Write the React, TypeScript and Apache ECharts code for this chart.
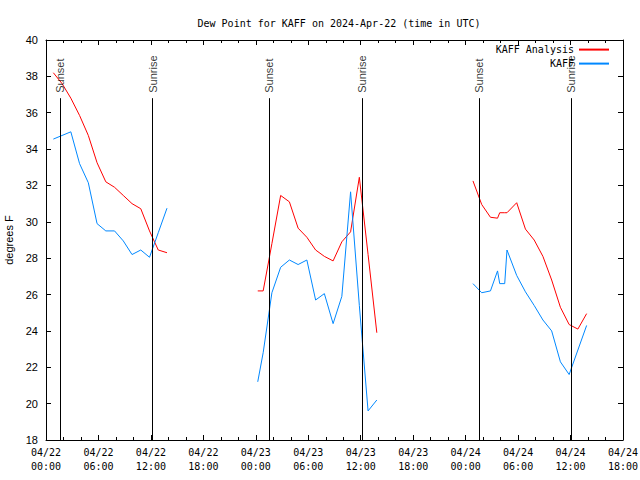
import React, { useEffect, useRef } from "react";
import * as echarts from "echarts";

// hours since 04/22 00:00 UTC
const seg1Hours = [0.84, 1.84, 2.84, 3.84, 4.84, 5.84, 6.84, 7.84, 8.84, 9.84, 10.84, 11.84, 12.84, 13.84];
const seg1Analysis = [38.2, 37.6, 36.8, 35.85, 34.75, 33.25, 32.2, 31.9, 31.45, 31.0, 30.72, 29.5, 28.45, 28.3];
const seg1Obs = [34.55, 34.75, 34.95, 33.2, 32.15, 29.9, 29.5, 29.5, 28.95, 28.2, 28.45, 28.05, 29.4, 30.75];

const seg2Hours = [24.22, 24.84, 25.84, 26.84, 27.84, 28.84, 29.84, 30.84, 31.84, 32.84, 33.84, 34.84, 35.84, 36.84, 37.84];
const seg2Analysis = [26.2, 26.2, 28.8, 31.45, 31.1, 29.65, 29.15, 28.45, 28.1, 27.85, 28.9, 29.45, 32.45, 28.2, 23.9];
const seg2Obs = [21.2, 22.8, 26.1, 27.5, 27.9, 27.65, 27.9, 25.7, 26.05, 24.4, 25.9, 31.65, 25.4, 19.6, 20.2];

const seg3Hours = [48.84, 49.84, 50.84, 51.65, 51.9, 52.47, 52.73, 53.84, 54.84, 55.84, 56.84, 57.84, 58.84, 59.84, 60.84, 61.84];
const seg3Analysis = [32.25, 30.95, 30.25, 30.2, 30.5, 30.5, 30.5, 31.05, 29.6, 29.0, 28.1, 26.8, 25.3, 24.35, 24.1, 24.95];
const seg3Obs = [26.6, 26.1, 26.2, 27.3, 26.6, 26.6, 28.45, 27.05, 26.15, 25.4, 24.6, 24.0, 22.3, 21.6, 22.95, 24.3];

const sunsetHours = [1.6, 25.48, 49.53];
const sunriseHours = [12.2, 36.13, 60.03];

const dayLabels = ["04/22", "04/23", "04/24", "04/25"];
const yTicks = { min: 18, max: 40, step: 2 };
const xTicks = { min: 0, max: 66, step: 6 };

const MONO = "DejaVu Sans Mono";
const SANS = "Liberation Sans";

function pairs(xs: number[], ys: number[]) {
  return xs.map((x, i) => [x, ys[i]]);
}

export default function App() {
  const ref = useRef<HTMLDivElement>(null);
  useEffect(() => {
    if (!ref.current) return;
    const chart = echarts.init(ref.current, undefined, { renderer: "svg" });
    const RED = "#ff0000";
    const BLUE = "#0088ff";
    const lineSeries = (name: string, color: string, data: number[][]) => ({
      type: "line",
      name,
      data,
      symbol: "none",
      showSymbol: false,
      lineStyle: { color, width: 1 },
      itemStyle: { color },
      xAxisIndex: 0,
      yAxisIndex: 0,
      z: 2,
    });
    const sunLabels = [
      ...sunsetHours.map((t) => ({ value: [t, 37.1], name: "Sunset" })),
      ...sunriseHours.map((t) => ({ value: [t, 37.1], name: "Sunrise" })),
    ];
    const sunLines = [...sunsetHours, ...sunriseHours].map((t) => [
      { coord: [t, yTicks.min] },
      { coord: [t, 36.8] },
    ]);
    const axisLineStyle = { color: "#000", width: 1 };
    const xLabelFmt = (v: number) => {
      const d = Math.floor(v / 24);
      const h = Math.round(v - d * 24);
      return `${dayLabels[d]}\n${String(h).padStart(2, "0")}:00`;
    };
    const legendBase = {
      right: 30,
      align: "right",
      padding: 0,
      itemWidth: 30,
      itemHeight: 14,
      itemStyle: { opacity: 0 },
      textStyle: { fontFamily: MONO, fontSize: 10, color: "#000" },
    };
    chart.setOption({
      animation: false,
      backgroundColor: "#fff",
      title: {
        text: "Dew Point for KAFF on 2024-Apr-22 (time in UTC)",
        left: 334,
        textAlign: "center",
        top: 13,
        textStyle: { fontFamily: MONO, fontSize: 10, fontWeight: "normal", color: "#000" },
      },
      legend: [
        { ...legendBase, data: ["KAFF Analysis"], top: 44 },
        { ...legendBase, data: ["KAFF"], top: 58 },
      ],
      grid: { left: 46, right: 17, top: 40, bottom: 40, outerBoundsMode: "none", containLabel: false },
      xAxis: [
        {
          type: "value",
          min: xTicks.min,
          max: xTicks.max,
          interval: xTicks.step,
          position: "bottom",
          axisLine: { show: true, onZero: false, lineStyle: axisLineStyle },
          axisTick: { show: true, inside: true, length: 5, lineStyle: axisLineStyle },
          minorTick: { show: true, splitNumber: 3, length: 3, lineStyle: axisLineStyle },
          splitLine: { show: false },
          axisLabel: {
            formatter: xLabelFmt,
            fontFamily: MONO,
            fontSize: 10,
            lineHeight: 14,
            color: "#000",
            margin: 5,
            showMinLabel: true,
            showMaxLabel: true,
          },
        },
        {
          type: "value",
          min: xTicks.min,
          max: xTicks.max,
          interval: xTicks.step,
          position: "top",
          axisLine: { show: true, onZero: false, lineStyle: axisLineStyle },
          axisTick: { show: true, inside: true, length: 5, lineStyle: axisLineStyle },
          minorTick: { show: true, splitNumber: 3, length: 3, lineStyle: axisLineStyle },
          splitLine: { show: false },
          axisLabel: { show: false },
        },
      ],
      yAxis: [
        {
          type: "value",
          min: yTicks.min,
          max: yTicks.max,
          interval: yTicks.step,
          position: "left",
          name: "degrees F",
          nameLocation: "middle",
          nameRotate: 90,
          nameGap: 30,
          nameTextStyle: { fontFamily: SANS, fontSize: 11, color: "#000" },
          axisLine: { show: true, onZero: false, lineStyle: axisLineStyle },
          axisTick: { show: true, inside: true, length: 5, lineStyle: axisLineStyle },
          splitLine: { show: false },
          axisLabel: { fontFamily: SANS, fontSize: 11, color: "#000", margin: 8 },
        },
        {
          type: "value",
          min: yTicks.min,
          max: yTicks.max,
          interval: yTicks.step,
          position: "right",
          axisLine: { show: true, onZero: false, lineStyle: axisLineStyle },
          axisTick: { show: true, inside: true, length: 5, lineStyle: axisLineStyle },
          splitLine: { show: false },
          axisLabel: { show: false },
        },
      ],
      series: [
        lineSeries("KAFF Analysis", RED, pairs(seg1Hours, seg1Analysis)),
        lineSeries("KAFF Analysis", RED, pairs(seg2Hours, seg2Analysis)),
        lineSeries("KAFF Analysis", RED, pairs(seg3Hours, seg3Analysis)),
        lineSeries("KAFF", BLUE, pairs(seg1Hours, seg1Obs)),
        lineSeries("KAFF", BLUE, pairs(seg2Hours, seg2Obs)),
        lineSeries("KAFF", BLUE, pairs(seg3Hours, seg3Obs)),
        {
          type: "scatter",
          name: "sun",
          data: sunLabels,
          symbolSize: 0,
          silent: true,
          z: 5,
          itemStyle: { color: "rgba(0,0,0,0)" },
          label: {
            show: true,
            formatter: "{b}",
            position: "inside",
            align: "left",
            verticalAlign: "middle",
            rotate: 90,
            fontFamily: SANS,
            fontSize: 11,
            color: "#000",
          },
          markLine: {
            silent: true,
            symbol: ["none", "none"],
            label: { show: false },
            lineStyle: { color: "#000", width: 1, type: "solid" },
            data: sunLines,
            z: 5,
          },
        },
      ],
    });
    return () => chart.dispose();
  }, []);
  return (
    <div
      ref={ref}
      style={{ position: "fixed", left: 0, top: 0, width: 640, height: 480, background: "#fff" }}
    />
  );
}
